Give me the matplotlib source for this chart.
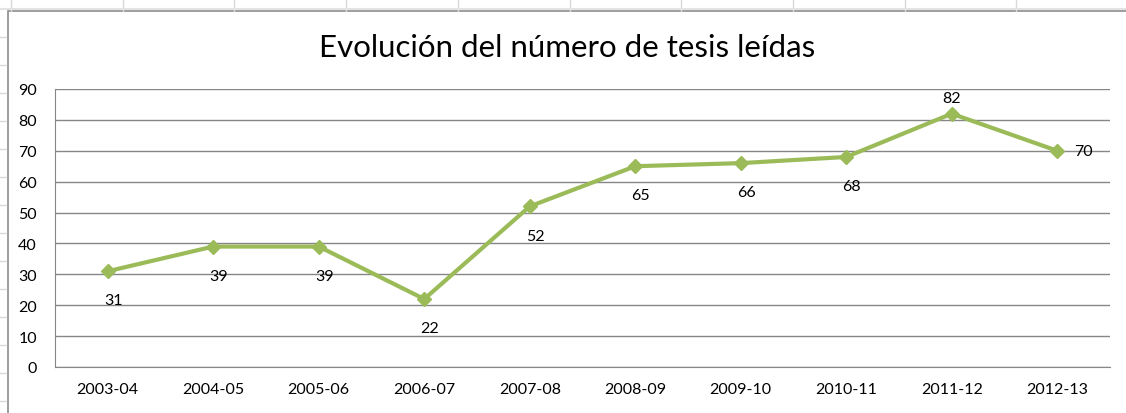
import numpy as np
import matplotlib.pyplot as plt
from matplotlib.lines import Line2D
from matplotlib.patches import Rectangle

# chart data
periods = ['2003-04', '2004-05', '2005-06', '2006-07', '2007-08',
           '2008-09', '2009-10', '2010-11', '2011-12', '2012-13']
theses = [31, 39, 39, 22, 52, 65, 66, 68, 82, 70]
# where each data label sits relative to its point
label_pos = ['below'] * 8 + ['above', 'right']

green = '#9BBB59'
grid_grey = '#868686'

plt.rcParams['font.family'] = ['Lato', 'DejaVu Sans']

fig = plt.figure(figsize=(11.26, 4.14), dpi=100)

# spreadsheet cell lines behind the chart object
W, H = 1126, 414
for xc in np.arange(11, W, 111.7):
    fig.add_artist(Line2D([xc / W, xc / W], [1, 1 - 12 / H], color='#d9d9d9', lw=1))
fig.add_artist(Line2D([0, 1], [1 - 10 / H, 1 - 10 / H], color='#e3e3e3', lw=1.5))
for yc in np.arange(38, H, 28):
    fig.add_artist(Line2D([0, 6 / W], [1 - yc / H, 1 - yc / H], color='#d9d9d9', lw=1))
# chart object border
fig.add_artist(Rectangle((8 / W, -0.05), 1.2, 1 - 12 / H + 0.05, fill=False,
                         edgecolor='#8c8c8c', lw=1.2))

ax = fig.add_axes([55 / W, 1 - 368 / H, 1055 / W, 278 / H])
x = np.arange(len(periods))
ax.plot(x, theses, color=green, lw=3, marker='D', markersize=7,
        markerfacecolor=green, markeredgecolor=green, zorder=3)

for xi, v, pos in zip(x, theses, label_pos):
    if pos == 'below':
        ax.annotate(str(v), (xi, v), xytext=(4, -21), textcoords='offset points',
                    ha='center', va='center', fontsize=11.5)
    elif pos == 'above':
        ax.annotate(str(v), (xi, v), xytext=(0, 11), textcoords='offset points',
                    ha='center', va='center', fontsize=11.5)
    else:
        ax.annotate(str(v), (xi, v), xytext=(19, 0), textcoords='offset points',
                    ha='center', va='center', fontsize=11.5)

ax.set_xlim(-0.5, len(periods) - 0.5)
ax.set_ylim(0, 90)
ax.set_yticks(np.arange(0, 91, 10))
ax.set_xticks(x)
ax.set_xticklabels(periods)
ax.yaxis.grid(True, color=grid_grey, lw=1)
ax.set_axisbelow(True)
for s in ['top', 'right']:
    ax.spines[s].set_visible(False)
ax.spines['left'].set_color(grid_grey)
ax.spines['bottom'].set_color(grid_grey)
ax.tick_params(axis='both', length=0, labelsize=11.5)
ax.tick_params(axis='x', pad=11)
ax.tick_params(axis='y', pad=13)

fig.text(567 / W, 1 - 48 / H, 'Evolución del número de tesis leídas',
         ha='center', va='center', fontsize=22.5)

fig.savefig('out.png', dpi=100)
